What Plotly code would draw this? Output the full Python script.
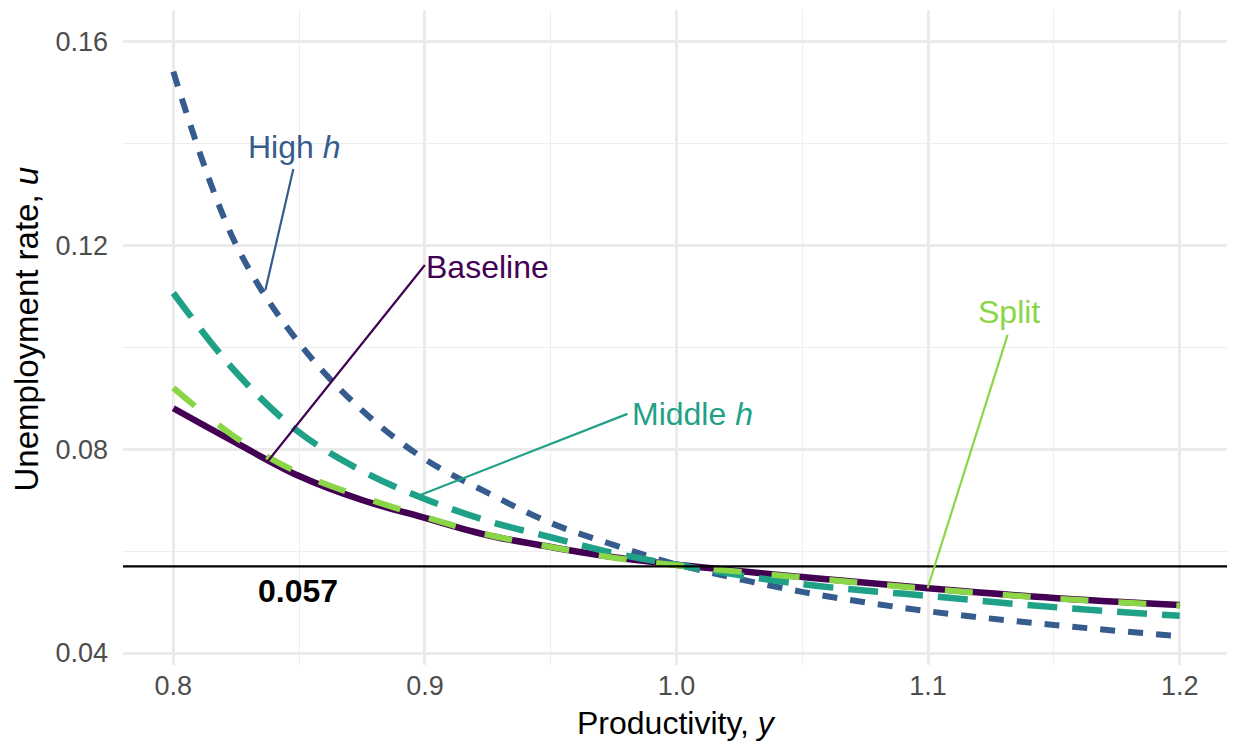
import plotly.graph_objects as go

# ---- data ----
productivity = [0.8, 0.825, 0.85, 0.875, 0.9, 0.925, 0.95, 0.975, 1.0, 1.05, 1.1, 1.15, 1.2]
u_baseline = [0.0880, 0.0812, 0.0747, 0.0700, 0.0665, 0.0631, 0.0608, 0.0588, 0.0573, 0.0549, 0.0527, 0.0508, 0.0494]
u_split    = [0.0920, 0.0822, 0.0753, 0.0706, 0.0667, 0.0632, 0.0608, 0.0587, 0.0572, 0.0548, 0.0526, 0.0507, 0.0493]
u_middle   = [0.1106, 0.0950, 0.0833, 0.0757, 0.0702, 0.0659, 0.0627, 0.0596, 0.0573, 0.0535, 0.0512, 0.0490, 0.0473]
u_high     = [0.1540, 0.1200, 0.1008, 0.0876, 0.0780, 0.0714, 0.0655, 0.0612, 0.0574, 0.0520, 0.0482, 0.0455, 0.0433]
u_reference = 0.057

colors = {"Baseline": "#440154", "High": "#365C8D", "Middle": "#1FA187", "Split": "#8AD647"}

x_ticks = [0.8, 0.9, 1.0, 1.1, 1.2]
y_ticks = [0.04, 0.08, 0.12, 0.16]

FONT = "Liberation Sans, Arial, sans-serif"

fig = go.Figure()

fig.add_trace(go.Scatter(x=productivity, y=u_baseline, mode="lines",
                         line=dict(color=colors["Baseline"], width=6.5, shape="spline"),
                         name="Baseline"))
fig.add_trace(go.Scatter(x=productivity, y=u_high, mode="lines",
                         line=dict(color=colors["High"], width=6, dash="15px,13px", shape="spline"),
                         name="High h"))
fig.add_trace(go.Scatter(x=productivity, y=u_middle, mode="lines",
                         line=dict(color=colors["Middle"], width=6.5, dash="30px,15px", shape="spline"),
                         name="Middle h"))
fig.add_trace(go.Scatter(x=productivity, y=u_split, mode="lines",
                         line=dict(color=colors["Split"], width=6, dash="28px,30px", shape="spline"),
                         name="Split"))

# reference line
fig.add_shape(type="line", xref="paper", x0=0, x1=1, yref="y", y0=u_reference, y1=u_reference,
              line=dict(color="black", width=2.2), layer="above")
fig.add_annotation(x=0.8497, y=0.0522, text="<b>%.3f</b>" % u_reference, showarrow=False,
                   font=dict(family=FONT, size=32, color="black"))

# labels with leader segments
labels = [
    ("High <i>h</i>", colors["High"], 0.8481, 0.1392, (0.8477, 0.1349, 0.8366, 0.1112)),
    ("Baseline", colors["Baseline"], 0.9249, 0.1157, (0.9000, 0.1161, 0.8374, 0.0775)),
    ("Middle <i>h</i>", colors["Middle"], 1.0064, 0.0869, (0.9805, 0.0869, 0.8982, 0.0710)),
    ("Split", colors["Split"], 1.1320, 0.1069, (1.1316, 0.1024, 1.0998, 0.0527)),
]
for text, col, lx, ly, seg in labels:
    fig.add_shape(type="line", xref="x", yref="y", x0=seg[0], y0=seg[1], x1=seg[2], y1=seg[3],
                  line=dict(color=col, width=2.2), layer="above")
    fig.add_annotation(x=lx, y=ly, text=text, showarrow=False,
                       font=dict(family=FONT, size=32, color=col))

# axis titles
fig.add_annotation(xref="paper", yref="paper", x=0.5, y=0, yanchor="middle", yshift=-58,
                   text="Productivity, <i>y</i>", showarrow=False,
                   font=dict(family=FONT, size=32, color="black"))
fig.add_annotation(xref="paper", yref="paper", x=0, y=0.5, xanchor="center", xshift=-97, yshift=8,
                   text="Unemployment rate, <i>u</i>", showarrow=False, textangle=-90,
                   font=dict(family=FONT, size=33, color="black"))

# page body has an 8px margin: shrink figure accordingly
fig.update_layout(
    width=1227, height=738,
    margin=dict(l=115, r=5, t=2, b=81),
    paper_bgcolor="white", plot_bgcolor="white",
    showlegend=False,
    font=dict(family=FONT, color="black"),
)
fig.update_xaxes(
    range=[0.78, 1.22], tickvals=x_ticks, ticktext=["%.1f" % v for v in x_ticks],
    showgrid=True, gridcolor="#EBEBEB", gridwidth=2.5, zeroline=False, showline=False,
    minor=dict(dtick=0.05, tick0=0.75, showgrid=True, gridcolor="#EEEEEE", gridwidth=1.3),
    tickfont=dict(family=FONT, size=27, color="#4D4D4D"), ticklabelstandoff=2,
    automargin=False,
)
fig.update_yaxes(
    range=[0.03765, 0.1661], tickvals=y_ticks, ticktext=["%.2f" % v for v in y_ticks],
    showgrid=True, gridcolor="#EBEBEB", gridwidth=2.5, zeroline=False, showline=False,
    minor=dict(dtick=0.02, tick0=0.02, showgrid=True, gridcolor="#EEEEEE", gridwidth=1.3),
    tickfont=dict(family=FONT, size=27, color="#4D4D4D"), ticklabelstandoff=14,
    automargin=False,
)

fig.write_html("out.html")
